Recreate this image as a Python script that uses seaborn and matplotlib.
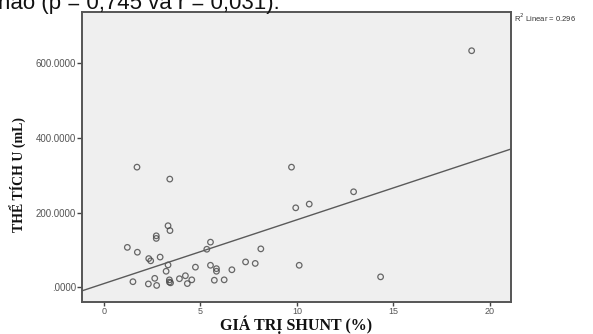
import matplotlib
matplotlib.use("Agg")
import matplotlib.pyplot as plt
from matplotlib.ticker import FuncFormatter
import seaborn as sns
import numpy as np
import pandas as pd

# Data
shunt = [1.71, 3.41, 9.72, 9.94, 10.64, 3.32, 3.42, 2.71, 2.71, 1.21,
         1.73, 2.32, 2.42, 2.91, 5.52, 5.33, 8.13, 3.32, 4.74, 5.52,
         5.83, 5.83, 6.63, 7.34, 7.84, 10.12, 3.22, 1.50, 2.30, 2.63,
         2.73, 3.39, 3.39, 3.45, 3.91, 4.22, 4.32, 4.55, 5.72, 6.23,
         19.06, 12.94, 14.34]
volume = [322, 290, 322, 213, 223, 165, 152, 138, 131, 107,
          94, 77, 71, 81, 121, 102, 103, 60, 54, 59,
          50, 43, 47, 68, 64, 59, 43, 15, 9, 24,
          5, 20, 14, 12, 23, 31, 10, 20, 19, 20,
          634, 256, 28]
x_ticks = [0, 5, 10, 15, 20]
y_ticks = [0, 200, 400, 600]
x_label = "GIÁ TRỊ SHUNT (%)"
y_label = "THỂ TÍCH U (mL)"
r2_label = "R$^2$ Linear = 0.296"
top_text = "hào (p = 0,745 và r = 0,031)."

df = pd.DataFrame({"shunt": shunt, "volume": volume})

sns.set_style("white")
plt.rcParams['font.family'] = ['Liberation Sans', 'DejaVu Sans']

fig = plt.figure(figsize=(5.93, 3.34), dpi=100)
ax = fig.add_axes([0.1383, 0.0967, 0.7234, 0.8665])
ax.set_facecolor("#efefef")
ax.set_xlim(-1.14, 21.1)
ax.set_ylim(-38.6, 737)

sns.regplot(data=df, x="shunt", y="volume", ax=ax, ci=None, truncate=False,
            scatter_kws=dict(facecolors="none", edgecolors="#444444", s=16, linewidths=0.9),
            line_kws=dict(color="#5a5a5a", lw=1.0))

ax.set_xticks(x_ticks)
ax.set_yticks(y_ticks)
ax.yaxis.set_major_formatter(FuncFormatter(lambda v, p: ".0000" if v == 0 else f"{v:.4f}"))
ax.tick_params(axis="both", direction="out", length=3.5, width=1, color="#444444",
               labelsize=7, labelcolor="#555555", pad=1, bottom=True, left=True)
ax.tick_params(axis="x", labelsize=6.5, pad=0.5, length=3)
for s in ax.spines.values():
    s.set_color("#555555")
    s.set_linewidth(1.4)

ax.set_xlabel(x_label, family=["Liberation Serif", "DejaVu Serif"], fontweight="bold",
              fontsize=11.5, color="#111111", va="center")
ax.xaxis.set_label_coords(0.5, -0.078)
ax.set_ylabel(y_label, family=["Liberation Serif", "DejaVu Serif"], fontweight="bold",
              fontsize=10, color="#111111", va="center")
ax.yaxis.set_label_coords(-0.147, 0.438)

fig.text(0.866, 0.946, r2_label, fontsize=5.5, color="#333333", ha="left", va="center")
fig.text(-0.003, 1 - 8.5 / 334, top_text, fontsize=16, color="#111111",
         ha="left", va="baseline")

fig.savefig("out.png", dpi=100)
